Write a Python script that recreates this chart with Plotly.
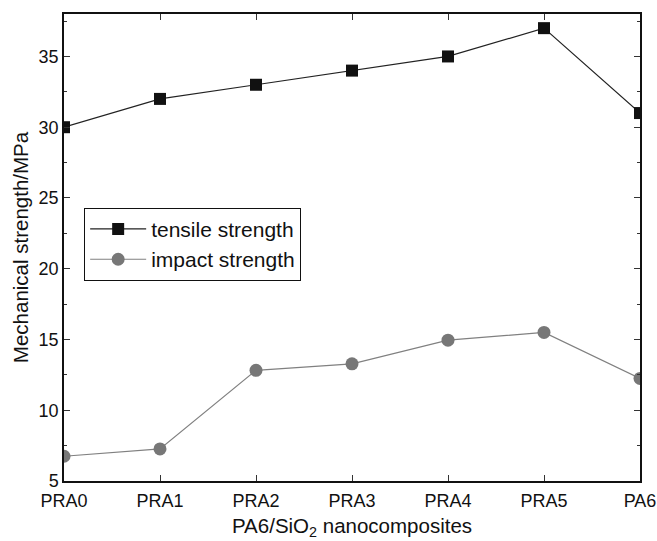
import plotly.graph_objects as go

categories = ["PRA0", "PRA1", "PRA2", "PRA3", "PRA4", "PRA5", "PA6"]
tensile = [30, 32, 33, 34, 35, 37, 31]
impact = [6.75, 7.27, 12.82, 13.28, 14.95, 15.5, 12.25]
y_ticks = [5, 10, 15, 20, 25, 30, 35]

xpos = list(range(len(categories)))

fig = go.Figure()
fig.add_trace(go.Scatter(
    x=xpos, y=tensile, mode="lines+markers", name="tensile strength",
    line=dict(color="#222222", width=1.2),
    marker=dict(symbol="square", size=12, color="#111111"),
))
fig.add_trace(go.Scatter(
    x=xpos, y=impact, mode="lines+markers", name="impact strength",
    line=dict(color="#808080", width=1.2),
    marker=dict(symbol="circle", size=13, color="#777777"),
))

FONT = "Liberation Sans, Arial, sans-serif"

fig.update_layout(
    width=657, height=541,
    margin=dict(l=64, r=17, t=14, b=60),
    plot_bgcolor="white", paper_bgcolor="white",
    font=dict(family=FONT, size=18, color="#111111"),
    showlegend=True,
    legend=dict(
        x=0.035, y=0.585, xanchor="left", yanchor="top",
        bordercolor="#111111", borderwidth=1, bgcolor="white",
        font=dict(family=FONT, size=21, color="#111111"),
        tracegroupgap=0, itemwidth=56,
    ),
    xaxis=dict(
        range=[0, 6], tickmode="array", tickvals=xpos, ticktext=categories,
        showline=True, linecolor="#111111", linewidth=1.5, mirror="ticks",
        ticks="inside", ticklen=6, tickcolor="#333333",
        showgrid=False, zeroline=False, automargin=False,
        ticklabelstandoff=3,
        title=dict(text="PA6/SiO<sub>2</sub> nanocomposites", font=dict(size=20.5), standoff=8),
        tickfont=dict(size=18),
    ),
    yaxis=dict(
        range=[5, 38], tickmode="array", tickvals=y_ticks,
        showline=True, linecolor="#111111", linewidth=1.5, mirror="ticks",
        ticks="inside", ticklen=6, tickcolor="#333333",
        minor=dict(dtick=2.5, ticks="inside", ticklen=3, tickcolor="#333333"),
        showgrid=False, zeroline=False, automargin=False,
        title=dict(text="Mechanical strength/MPa", font=dict(size=20.5), standoff=4),
        tickfont=dict(size=18),
    ),
)

fig.write_html("out.html")
